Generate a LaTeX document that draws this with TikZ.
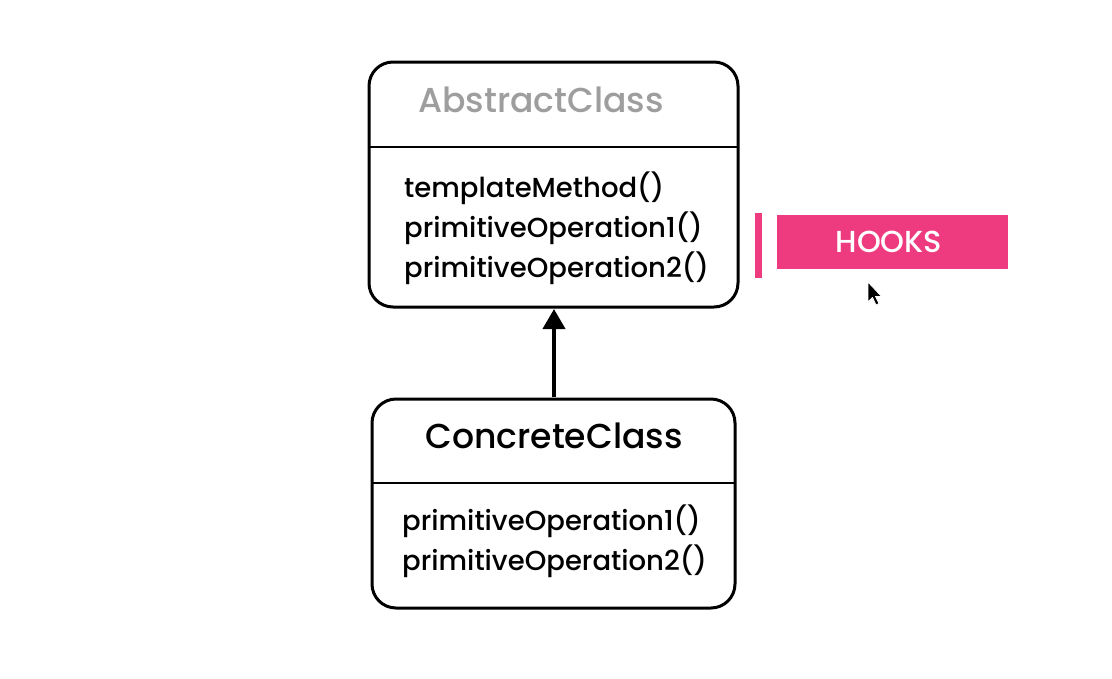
\documentclass[tikz,border=0pt]{standalone}
\usepackage{fontspec}
\setmainfont{Poppins Medium}
\usetikzlibrary{arrows.meta}
\definecolor{hookpink}{HTML}{EE3A7E}
\definecolor{titlegray}{HTML}{9E9E9E}
\tikzset{
  classbox/.style={draw=black, line width=3pt, rounded corners=24pt},
  divider/.style={draw=black, line width=2.6pt},
  titletext/.style={font=\fontsize{34.6}{39}\selectfont, anchor=base, inner sep=0pt},
  methodtext/.style={font=\fontsize{27.5}{31}\selectfont, anchor=base west, inner sep=0pt},
  inherit/.style={line width=4pt, -{Triangle[width=22pt,length=20pt]}},
}
\begin{document}
\begin{tikzpicture}[x=1pt,y=-1pt]
\useasboundingbox[fill=white] (0,0) rectangle (1112,678);
% Abstract class
\draw[classbox] (369,62) rectangle (738,307);
\draw[divider] (369,147) -- (738,147);
\node[titletext, text=titlegray] (atitle) at (541,112) {AbstractClass};
\node[methodtext] (am1) at (404,197) {templateMethod()};
\node[methodtext] (am2) at (404,237) {primitiveOperation1()};
\node[methodtext] (am3) at (404,277) {primitiveOperation2()};
\coordinate (abot) at (554,309);
% Concrete class
\draw[classbox] (372,399) rectangle (735,608);
\draw[divider] (372,483) -- (735,483);
\node[titletext] (ctitle) at (554,448) {ConcreteClass};
\node[methodtext] (cm1) at (402,530) {primitiveOperation1()};
\node[methodtext] (cm2) at (402,570) {primitiveOperation2()};
\coordinate (ctop) at (554,397);
% inheritance arrow
\draw[inherit] (ctop) -- (abot);
% hooks
\fill[hookpink] (755,213) rectangle (762,278);
\fill[hookpink] (777,215) rectangle (1008,269);
\node[inner sep=0pt, text=white, font=\fontsize{30.4}{34}\selectfont] (hooks) at (889,242) {HOOKS};
% mouse cursor
\fill[black, draw=white, line width=0.8pt, line join=round]
  (868,282) -- (868,302) -- (872.5,297.5) -- (876,305) -- (879,303.5) -- (875.5,296.5) -- (881.5,296.5) -- cycle;
\end{tikzpicture}
\end{document}
